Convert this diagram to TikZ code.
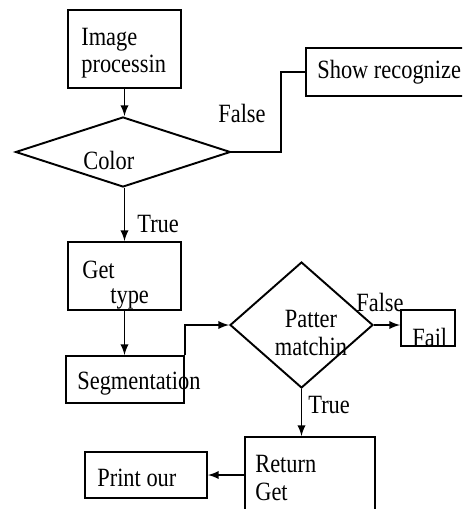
\documentclass[tikz,border=0pt]{standalone}
\usepackage{fontspec}
\setmainfont{Liberation Serif}
\usepackage{graphicx}
\usetikzlibrary{calc}
\usetikzlibrary{arrows}
\usetikzlibrary{shapes.geometric}

% texte un peu etroit, comme sur le schema d'origine
\newcommand{\etroit}[1]{\scalebox{0.85}[1]{#1}}

\tikzset{
  boite/.style={draw, rectangle, line width=1.1pt, inner sep=0pt},
  losange/.style={draw, diamond, line width=1.1pt, inner sep=0pt},
  texte/.style={inner sep=0pt, anchor=west, align=left, font=\fontsize{15}{15.5}\selectfont},
  fleche/.style={line width=1.1pt, -latex},
  trait/.style={line width=1.1pt}
}

\begin{document}
\begin{tikzpicture}[x=0.02cm,y=-0.02cm]

\useasboundingbox (0,0) rectangle (462,509);
\clip (0,0) rectangle (462,509);

%%%%%%%%%%%%%%%%%%%%%%%%
%Les boites
%%%%%%%%%%%%%%%%%%%%%%%%
\node[boite, minimum width=2.26cm, minimum height=1.56cm] (imgbox) at (124.5,49) {};
\node[losange, minimum width=4.3cm, minimum height=1.4cm] (colordia) at (123,152) {};
\node[boite, minimum width=3.4cm, minimum height=0.96cm] (showbox) at (391,72) {};
\node[boite, minimum width=2.26cm, minimum height=1.36cm] (getbox) at (124.5,276) {};
\node[boite, minimum width=2.36cm, minimum height=0.94cm] (segbox) at (125,379.5) {};
\node[losange, minimum width=2.86cm, minimum height=2.52cm] (patdia) at (301.5,325) {};
\node[boite, minimum width=1.08cm, minimum height=0.72cm] (failbox) at (428,328) {};
\node[boite, minimum width=2.6cm, minimum height=1.84cm] (retbox) at (310,483) {};
\node[boite, minimum width=2.44cm, minimum height=0.92cm] (prtbox) at (146,475) {};

%%%%%%%%%%%%%%%%%%%%%%%%
%Les textes
%%%%%%%%%%%%%%%%%%%%%%%%
\node[texte] (imgtxt) at (81,53) {\etroit{Image}\\\etroit{processin}};
\node[texte] (showtxt) at (317,72) {\etroit{Show recognize}};
\node[texte] (colortxt) at (83,160) {\etroit{Color}};
\node[texte] (faux1) at (218,113) {\etroit{False}};
\node[texte] (vrai1) at (137,224) {\etroit{True}};
\node[texte] (gettxt) at (82,270) {\etroit{Get}};
\node[texte] (typetxt) at (110,299) {\etroit{type}};
\node[texte] (segtxt) at (77,384) {\etroit{Segmentation}};
\node[texte, anchor=center, align=center] (pattxt) at (311,333) {\etroit{Patter}\\\etroit{matchin}};
\node[texte] (faux2) at (356,302) {\etroit{False}};
\node[texte] (failtxt) at (412,337) {\etroit{Fail}};
\node[texte] (vrai2) at (308,405) {\etroit{True}};
\node[texte] (rettxt) at (255,478) {\etroit{Return}\\\etroit{Get}};
\node[texte] (prttxt) at (97,478) {\etroit{Print our}};

%%%%%%%%%%%%%%%%%%%%%%%%
%Les liaisons
%%%%%%%%%%%%%%%%%%%%%%%%
\draw[fleche] (imgbox.south) -- (colordia.north -| imgbox.south);
\draw[trait] (colordia.east) -| ($(showbox.west)+(-24,0)$) -- (showbox.west);
\draw[fleche] (colordia.south -| getbox.north) -- (getbox.north);
\draw[fleche] (getbox.south) -- (segbox.north -| getbox.south);
\draw[fleche] (segbox.north east) |- (patdia.west);
\draw[fleche] (patdia.east) -- (failbox.west |- patdia.east);
\draw[fleche] (patdia.south) -- (retbox.north -| patdia.south);
\draw[fleche] (retbox.west |- prtbox.east) -- (prtbox.east);

\end{tikzpicture}
\end{document}
